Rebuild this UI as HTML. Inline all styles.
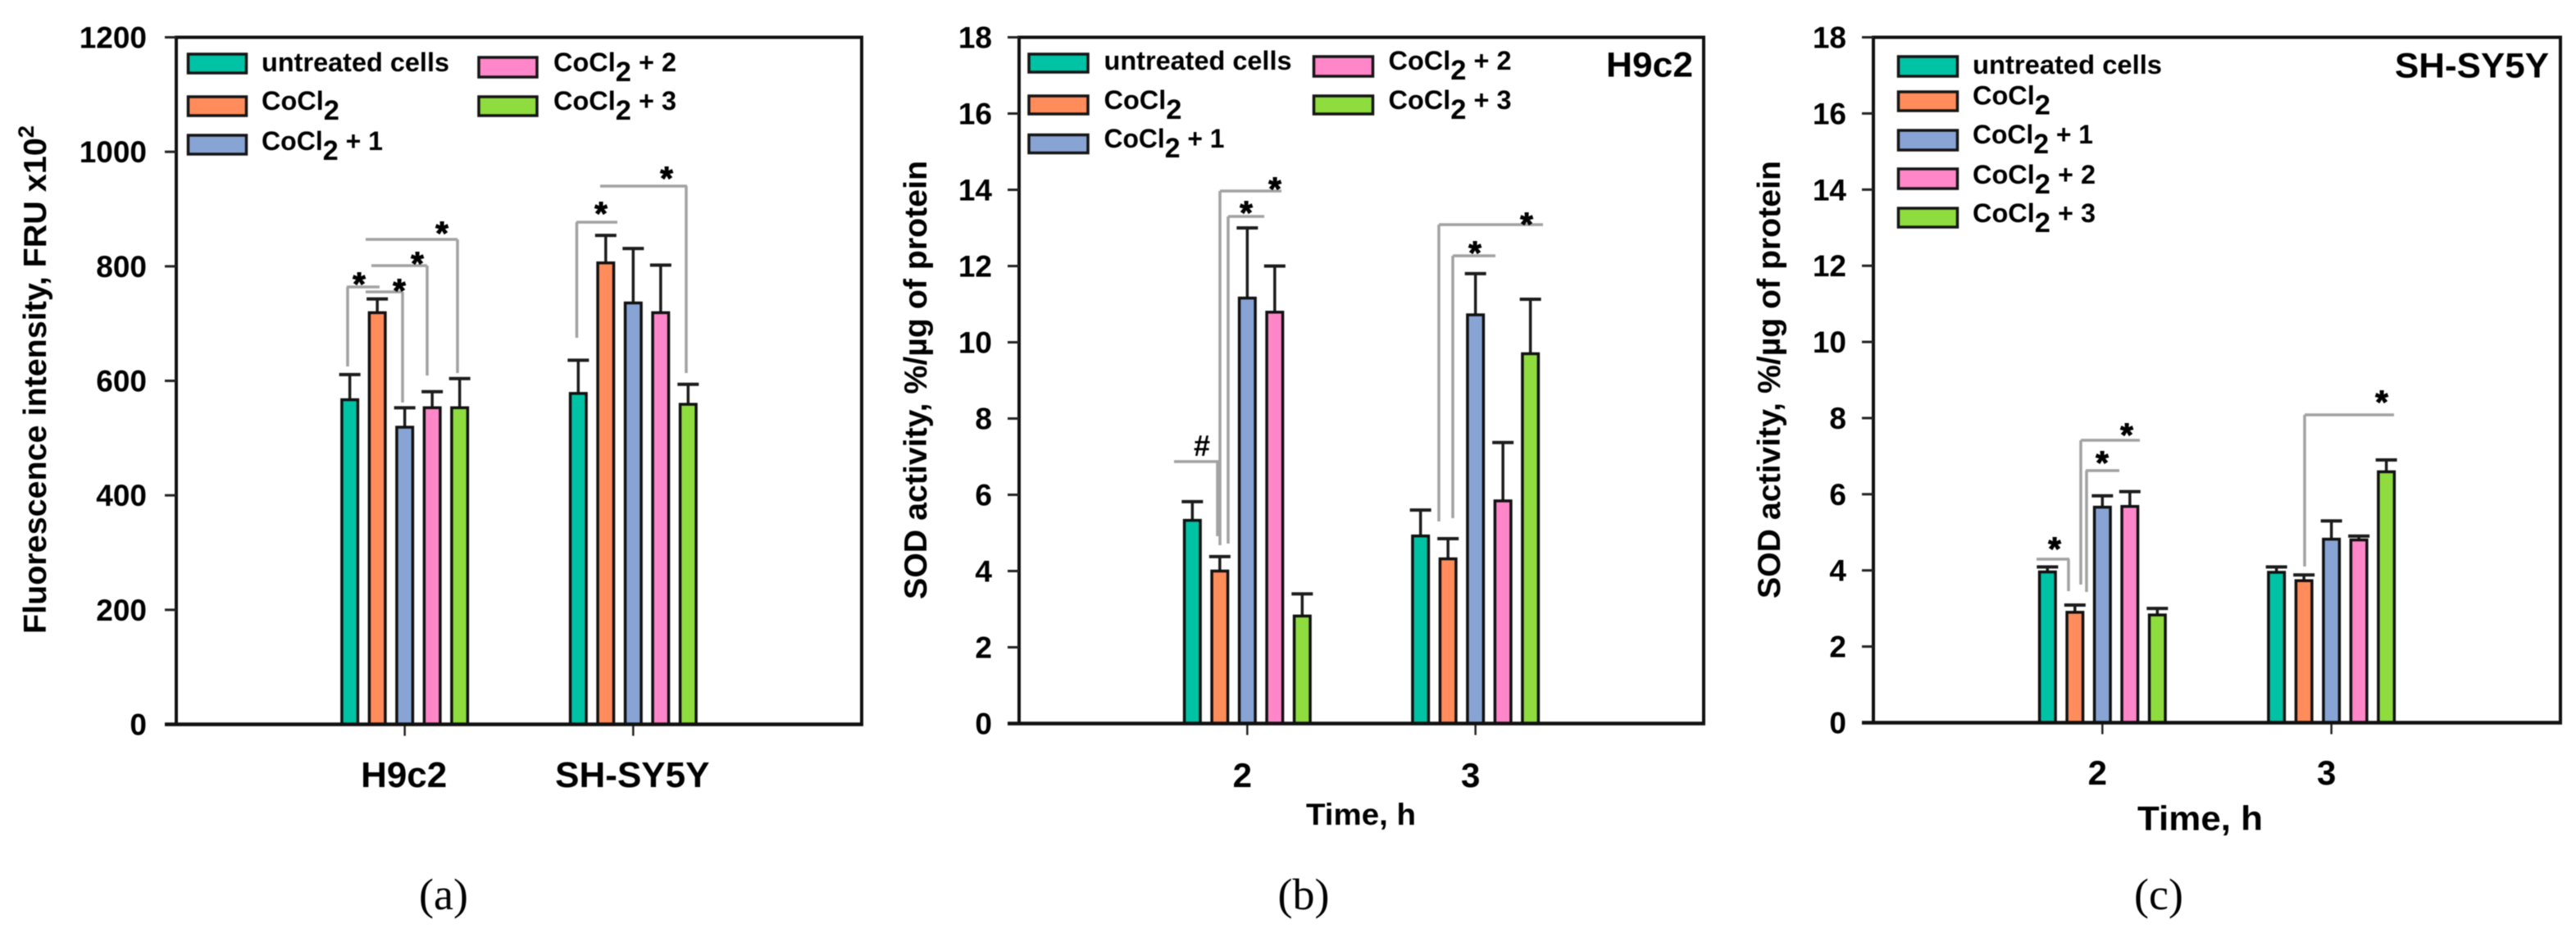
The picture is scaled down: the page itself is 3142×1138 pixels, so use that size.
<!DOCTYPE html>
<html lang="en">
<head>
<meta charset="utf-8">
<title>Fluorescence intensity and SOD activity bar charts</title>
<style>
html,body{margin:0;padding:0;background:#fff;width:3142px;height:1138px;overflow:hidden}
svg{display:block;filter:blur(0.6px)}
text{font-family:"Liberation Sans",Arial,sans-serif;font-weight:bold;fill:#000}
.leg{font-size:32px}
.sub{font-size:34px}
.ytitle{font-size:39px}
.cap{font-family:"Liberation Serif","Times New Roman",serif;font-weight:normal;font-size:54px;text-anchor:middle}
.swatch{stroke:#151515;stroke-width:3.5}
</style>
</head>
<body>
<svg id="figure" xmlns="http://www.w3.org/2000/svg" width="3142" height="1138" viewBox="0 0 3142 1138">
  <rect x="0" y="0" width="3142" height="1138" fill="#fff"/>

  <g id="panel-a"></g>
  <g id="panel-b"></g>
  <g id="panel-c"></g>

  <!-- Panel a static text and legend -->
  <text class="ytitle" transform="translate(56,773) rotate(-90)" textLength="620" lengthAdjust="spacingAndGlyphs">Fluorescence intensity, FRU x10<tspan font-size="27" dy="-15">2</tspan></text>
  <g>
    <g><rect class="swatch" x="229.5" y="66" width="71" height="23" fill="#00c2a4"/><text class="leg" x="319" y="87" textLength="229" lengthAdjust="spacingAndGlyphs">untreated cells</text></g>
    <g><rect class="swatch" x="229.5" y="118" width="71" height="23" fill="#ff8c5a"/><text class="leg" x="319" y="134" textLength="95" lengthAdjust="spacingAndGlyphs">CoCl<tspan class="sub" dy="12">2</tspan></text></g>
    <g><rect class="swatch" x="229.5" y="165" width="71" height="23" fill="#88a4d4"/><text class="leg" x="319" y="183" textLength="148" lengthAdjust="spacingAndGlyphs">CoCl<tspan class="sub" dy="12">2</tspan><tspan dy="-12"> + 1</tspan></text></g>
    <g><rect class="swatch" x="584" y="70" width="71" height="24" fill="#ff86c8"/><text class="leg" x="675" y="87" textLength="150" lengthAdjust="spacingAndGlyphs">CoCl<tspan class="sub" dy="12">2</tspan><tspan dy="-12"> + 2</tspan></text></g>
    <g><rect class="swatch" x="584" y="118" width="71" height="23" fill="#8edc3e"/><text class="leg" x="675" y="134" textLength="150" lengthAdjust="spacingAndGlyphs">CoCl<tspan class="sub" dy="12">2</tspan><tspan dy="-12"> + 3</tspan></text></g>
  </g>
  <text class="cap" x="541" y="1109">(a)</text>

  <!-- Panel b static text and legend -->
  <text class="ytitle" transform="translate(1130,731) rotate(-90)" textLength="535" lengthAdjust="spacingAndGlyphs">SOD activity, %/µg of protein</text>
  <text x="1593" y="1006" font-size="37" textLength="134" lengthAdjust="spacingAndGlyphs">Time, h</text>
  <text x="1959" y="93.5" font-size="43" textLength="106" lengthAdjust="spacingAndGlyphs">H9c2</text>
  <g>
    <g><rect class="swatch" x="1255" y="66" width="72" height="22" fill="#00c2a4"/><text class="leg" x="1346.5" y="85" textLength="229" lengthAdjust="spacingAndGlyphs">untreated cells</text></g>
    <g><rect class="swatch" x="1255" y="117" width="72" height="22" fill="#ff8c5a"/><text class="leg" x="1346.5" y="133" textLength="95" lengthAdjust="spacingAndGlyphs">CoCl<tspan class="sub" dy="12">2</tspan></text></g>
    <g><rect class="swatch" x="1255" y="164.5" width="72" height="22" fill="#88a4d4"/><text class="leg" x="1346.5" y="180" textLength="147" lengthAdjust="spacingAndGlyphs">CoCl<tspan class="sub" dy="12">2</tspan><tspan dy="-12"> + 1</tspan></text></g>
    <g><rect class="swatch" x="1602.5" y="69" width="72" height="24" fill="#ff86c8"/><text class="leg" x="1693.5" y="85" textLength="150" lengthAdjust="spacingAndGlyphs">CoCl<tspan class="sub" dy="12">2</tspan><tspan dy="-12"> + 2</tspan></text></g>
    <g><rect class="swatch" x="1602.5" y="117" width="72" height="22" fill="#8edc3e"/><text class="leg" x="1693.5" y="133" textLength="150" lengthAdjust="spacingAndGlyphs">CoCl<tspan class="sub" dy="12">2</tspan><tspan dy="-12"> + 3</tspan></text></g>
  </g>
  <text class="cap" x="1590" y="1109">(b)</text>

  <!-- Panel c static text and legend -->
  <text class="ytitle" transform="translate(2171,730) rotate(-90)" textLength="534" lengthAdjust="spacingAndGlyphs">SOD activity, %/µg of protein</text>
  <text x="2607" y="1012.5" font-size="42" textLength="153" lengthAdjust="spacingAndGlyphs">Time, h</text>
  <text x="2921" y="94.5" font-size="43" textLength="188" lengthAdjust="spacingAndGlyphs">SH-SY5Y</text>
  <g>
    <g><rect class="swatch" x="2315.5" y="69" width="72" height="24" fill="#00c2a4"/><text class="leg" x="2406" y="90" textLength="231" lengthAdjust="spacingAndGlyphs">untreated cells</text></g>
    <g><rect class="swatch" x="2315.5" y="112" width="72" height="23" fill="#ff8c5a"/><text class="leg" x="2406" y="127.5" textLength="95" lengthAdjust="spacingAndGlyphs">CoCl<tspan class="sub" dy="12">2</tspan></text></g>
    <g><rect class="swatch" x="2315.5" y="159" width="72" height="24" fill="#88a4d4"/><text class="leg" x="2406" y="175" textLength="147" lengthAdjust="spacingAndGlyphs">CoCl<tspan class="sub" dy="12">2</tspan><tspan dy="-12"> + 1</tspan></text></g>
    <g><rect class="swatch" x="2315.5" y="206" width="72" height="24" fill="#ff86c8"/><text class="leg" x="2406" y="224" textLength="150" lengthAdjust="spacingAndGlyphs">CoCl<tspan class="sub" dy="12">2</tspan><tspan dy="-12"> + 2</tspan></text></g>
    <g><rect class="swatch" x="2315.5" y="254" width="72" height="23" fill="#8edc3e"/><text class="leg" x="2406" y="271" textLength="150" lengthAdjust="spacingAndGlyphs">CoCl<tspan class="sub" dy="12">2</tspan><tspan dy="-12"> + 3</tspan></text></g>
  </g>
  <text class="cap" x="2633" y="1109">(c)</text>
</svg>

<script>
// Chart data
const seriesColors = ['#00c2a4', '#ff8c5a', '#88a4d4', '#ff86c8', '#8edc3e'];

const aCategories = ['H9c2', 'SH-SY5Y'];
const aTicks = [0, 200, 400, 600, 800, 1000, 1200];
const aUntreated = [567, 578];
const aCoCl2 = [719, 806];
const aCoCl2Plus1 = [519, 736];
const aCoCl2Plus2 = [553, 719];
const aCoCl2Plus3 = [553, 559];
const aErrUntreated = [611, 636];
const aErrCoCl2 = [743, 854];
const aErrCoCl2Plus1 = [553, 831];
const aErrCoCl2Plus2 = [581, 802];
const aErrCoCl2Plus3 = [604, 594];

const bCategories = ['2', '3'];
const bTicks = [0, 2, 4, 6, 8, 10, 12, 14, 16, 18];
const bUntreated = [5.33, 4.92];
const bCoCl2 = [4.0, 4.32];
const bCoCl2Plus1 = [11.16, 10.72];
const bCoCl2Plus2 = [10.79, 5.84];
const bCoCl2Plus3 = [2.82, 9.7];
const bErrUntreated = [5.82, 5.6];
const bErrCoCl2 = [4.38, 4.85];
const bErrCoCl2Plus1 = [13.0, 11.8];
const bErrCoCl2Plus2 = [12.0, 7.37];
const bErrCoCl2Plus3 = [3.4, 11.13];

const cCategories = ['2', '3'];
const cTicks = [0, 2, 4, 6, 8, 10, 12, 14, 16, 18];
const cUntreated = [3.96, 3.95];
const cCoCl2 = [2.9, 3.73];
const cCoCl2Plus1 = [5.66, 4.82];
const cCoCl2Plus2 = [5.68, 4.8];
const cCoCl2Plus3 = [2.83, 6.59];
const cErrUntreated = [4.09, 4.09];
const cErrCoCl2 = [3.09, 3.88];
const cErrCoCl2Plus1 = [5.96, 5.3];
const cErrCoCl2Plus2 = [6.07, 4.9];
const cErrCoCl2Plus3 = [3.0, 6.9];

const SVGNS = 'http://www.w3.org/2000/svg';

function mk(parent, tag, attrs) {
  const el = document.createElementNS(SVGNS, tag);
  for (const k in attrs) el.setAttribute(k, attrs[k]);
  parent.appendChild(el);
  return el;
}

function drawPanel(cfg) {
  const root = document.getElementById(cfg.id);
  const yOf = v => cfg.yBot - (v / cfg.yMax) * (cfg.yBot - cfg.yTop);
  const xOf = i => cfg.x0 + (i + 1) * (cfg.x1 - cfg.x0) / 3;
  const barStep = 33.5, barW = 19.5, capW = 26;

  // Frame
  const frame = mk(root, 'rect', {x: cfg.x0, y: cfg.yTop, width: cfg.x1 - cfg.x0, height: cfg.yBot - cfg.yTop, fill: 'none', stroke: '#111', 'stroke-width': 4});
  
  

  // Y axis ticks and labels
  cfg.ticks.forEach(t => {
    const y = yOf(t);
    const tick = mk(root, 'line', {x1: cfg.x0 - 14, x2: cfg.x0, y1: y, y2: y, stroke: '#222', 'stroke-width': 3});
    
    
    const label = mk(root, 'text', {x: cfg.x0 - cfg.yLabelGap, y: y + 13, 'font-size': 37, 'text-anchor': 'end'});
    label.textContent = String(t);
    
    
  });

  // X axis ticks and labels
  cfg.categories.forEach((c, i) => {
    const x = xOf(i);
    const tick = mk(root, 'line', {x1: x, x2: x, y1: cfg.yBot, y2: cfg.yBot + 14, stroke: '#222', 'stroke-width': 2.5});
    
    
    const label = mk(root, 'text', {x: x + cfg.xLabelOffset, y: cfg.xLabelY, 'font-size': cfg.xLabelSize, 'text-anchor': 'middle'});
    label.textContent = c;
    
    
  });

  // Bars and error bars
  cfg.means.forEach((series, s) => {
    series.forEach((v, i) => {
      const cx = xOf(i) + (s - 2) * barStep;
      const top = yOf(v);
      const errTop = yOf(cfg.errs[s][i]);
      const stem = mk(root, 'line', {x1: cx, x2: cx, y1: top, y2: errTop, stroke: '#1c1c1c', 'stroke-width': 3.5});
      
      
      const cap = mk(root, 'line', {x1: cx - capW / 2, x2: cx + capW / 2, y1: errTop, y2: errTop, stroke: '#1c1c1c', 'stroke-width': 4});
      
      
      const bar = mk(root, 'rect', {x: cx - barW / 2, y: top, width: barW, height: cfg.yBot - top, fill: seriesColors[s], stroke: '#111', 'stroke-width': 3.5});
      
      
    });
  });

  // Baseline drawn over the bars
  const base = mk(root, 'line', {x1: cfg.x0 - 14, x2: cfg.x1 + 2, y1: cfg.yBot, y2: cfg.yBot, stroke: '#111', 'stroke-width': 4.5});
  
  

  // Significance annotations: horizontal from hx1 to hx2 at hy, drop at vx down to vy, marker at (sx, sy)
  cfg.brackets.forEach(b => {
    const path = mk(root, 'path', {d: 'M' + b[0] + ' ' + b[2] + 'H' + b[1] + 'M' + b[3] + ' ' + b[2] + 'V' + b[4], fill: 'none', stroke: '#a2a2a2', 'stroke-width': 3.5});
    
    
    const mark = b[7] || '*';
    const star = mk(root, 'text', {x: b[5], y: b[6] + (mark === '*' ? 23 : 13), 'font-size': mark === '*' ? 40 : 36, 'text-anchor': 'middle', stroke: '#000', 'stroke-width': mark === '*' ? 1 : 0});
    star.textContent = mark;
    
    
  });
}

drawPanel({
  id: 'panel-a', x0: 215, x1: 1051, yTop: 45.5, yBot: 883.5, yMax: 1200,
  ticks: aTicks, categories: aCategories, yLabelGap: 36, xLabelOffset: -1, xLabelY: 960, xLabelSize: 44,
  means: [aUntreated, aCoCl2, aCoCl2Plus1, aCoCl2Plus2, aCoCl2Plus3],
  errs: [aErrUntreated, aErrCoCl2, aErrCoCl2Plus1, aErrCoCl2Plus2, aErrCoCl2Plus3],
  brackets: [
    [423, 463, 350, 424, 447, 438, 337],
    [446, 491, 356, 491, 491, 487, 345],
    [453, 521, 324, 521, 458, 509, 312],
    [446, 558, 292, 558, 455, 539, 275],
    [703, 753, 271, 703.5, 412, 733, 251],
    [732, 838, 227, 837, 455, 813, 208]
  ]
});

drawPanel({
  id: 'panel-b', x0: 1243, x1: 2078, yTop: 45.5, yBot: 882.5, yMax: 18,
  ticks: bTicks, categories: bCategories, yLabelGap: 33, xLabelOffset: -6, xLabelY: 960, xLabelSize: 42,
  means: [bUntreated, bCoCl2, bCoCl2Plus1, bCoCl2Plus2, bCoCl2Plus3],
  errs: [bErrUntreated, bErrCoCl2, bErrCoCl2Plus1, bErrCoCl2Plus2, bErrCoCl2Plus3],
  brackets: [
    [1432, 1487, 563, 1485, 654, 1466, 543, '#'],
    [1488, 1563, 233, 1488, 665, 1555, 221],
    [1498, 1542, 264, 1498, 663, 1520, 250],
    [1755, 1882, 274, 1755, 636, 1862, 264],
    [1772, 1824, 312, 1772, 632, 1799, 299]
  ]
});

drawPanel({
  id: 'panel-c', x0: 2285, x1: 3123, yTop: 45.5, yBot: 881.5, yMax: 18,
  ticks: cTicks, categories: cCategories, yLabelGap: 33, xLabelOffset: -6, xLabelY: 957, xLabelSize: 42,
  means: [cUntreated, cCoCl2, cCoCl2Plus1, cCoCl2Plus2, cCoCl2Plus3],
  errs: [cErrUntreated, cErrCoCl2, cErrCoCl2Plus1, cErrCoCl2Plus2, cErrCoCl2Plus3],
  brackets: [
    [2484, 2524, 682, 2523, 721, 2506, 660],
    [2538, 2610, 537, 2538, 713, 2594, 521],
    [2544, 2585, 574, 2545, 722, 2564, 555],
    [2811, 2920, 506, 2811, 691, 2905, 481]
  ]
});
</script>
</body>
</html>
